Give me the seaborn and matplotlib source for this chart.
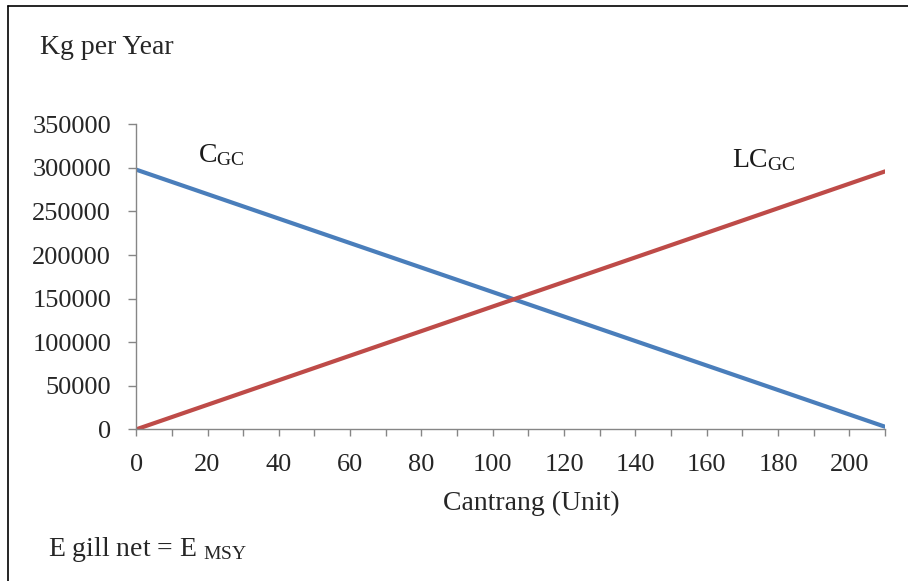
import pandas as pd
import numpy as np
import matplotlib
matplotlib.use("Agg")
import matplotlib.pyplot as plt
from matplotlib.lines import Line2D
import seaborn as sns

# values
cantrang = [0, 210]
catch_gc = [298000, 3000]      # C_GC
lcatch_gc = [0, 296000]        # LC_GC
x_ticks = list(range(0, 201, 20))
x_minor = list(range(10, 211, 20))
y_ticks = list(range(0, 350001, 50000))

df = pd.DataFrame({
    'cantrang': cantrang * 2,
    'kg': catch_gc + lcatch_gc,
    'series': ['C'] * len(cantrang) + ['LC'] * len(cantrang),
})

sns.set_style('white')
plt.rcParams['font.family'] = ['Liberation Serif', 'DejaVu Serif']
plt.rcParams['mathtext.fontset'] = 'custom'
plt.rcParams['mathtext.rm'] = 'Liberation Serif'
plt.rcParams['mathtext.it'] = 'Liberation Serif:italic'

fig = plt.figure(figsize=(9.08, 5.81), dpi=100)
ax = fig.add_axes([0.150, 0.261, 0.8247, 0.525])

sns.lineplot(data=df, x='cantrang', y='kg', hue='series',
             palette={'C': '#4a7ebb', 'LC': '#be4b48'},
             linewidth=3, legend=False, ax=ax)

ax.set_xlim(0, 210)
ax.set_ylim(0, 350000)
ax.set_xticks(x_ticks)
ax.set_xticks(x_minor, minor=True)
ax.set_yticks(y_ticks)
ax.set_xlabel('')
ax.set_ylabel('')

for s in ['top', 'right']:
    ax.spines[s].set_visible(False)
for s in ['left', 'bottom']:
    ax.spines[s].set_color('#868686')
    ax.spines[s].set_linewidth(1)

ax.tick_params(axis='y', which='major', direction='out', length=6, width=1,
               color='#868686', pad=12, labelsize=19, left=True)
ax.tick_params(axis='x', which='both', direction='out', length=5, width=1,
               color='#868686', pad=12.5, labelsize=19, bottom=True)

ax.text(17.3, 306500, r'C$_{\mathrm{GC}}$', fontsize=20, color='#1a1a1a')
ax.text(167.2, 301500, r'LC$_{\mathrm{GC}}$', fontsize=20, color='#1a1a1a')

fig.text(0.044, 0.919, 'Kg per Year', fontsize=20, va='center')
fig.text(0.585, 0.133, 'Cantrang (Unit)', fontsize=20, ha='center', va='center')
fig.text(0.053, 0.055, r'E gill net = E $_{\mathrm{MSY}}$', fontsize=20, va='center')

# outer frame (only top and left edges visible in the crop)
fig.add_artist(Line2D([0.009, 1.0], [0.990, 0.990], color='black', linewidth=1.2,
                      transform=fig.transFigure))
fig.add_artist(Line2D([0.009, 0.009], [0.0, 0.990], color='black', linewidth=1.2,
                      transform=fig.transFigure))

fig.savefig('out.png', dpi=100)
